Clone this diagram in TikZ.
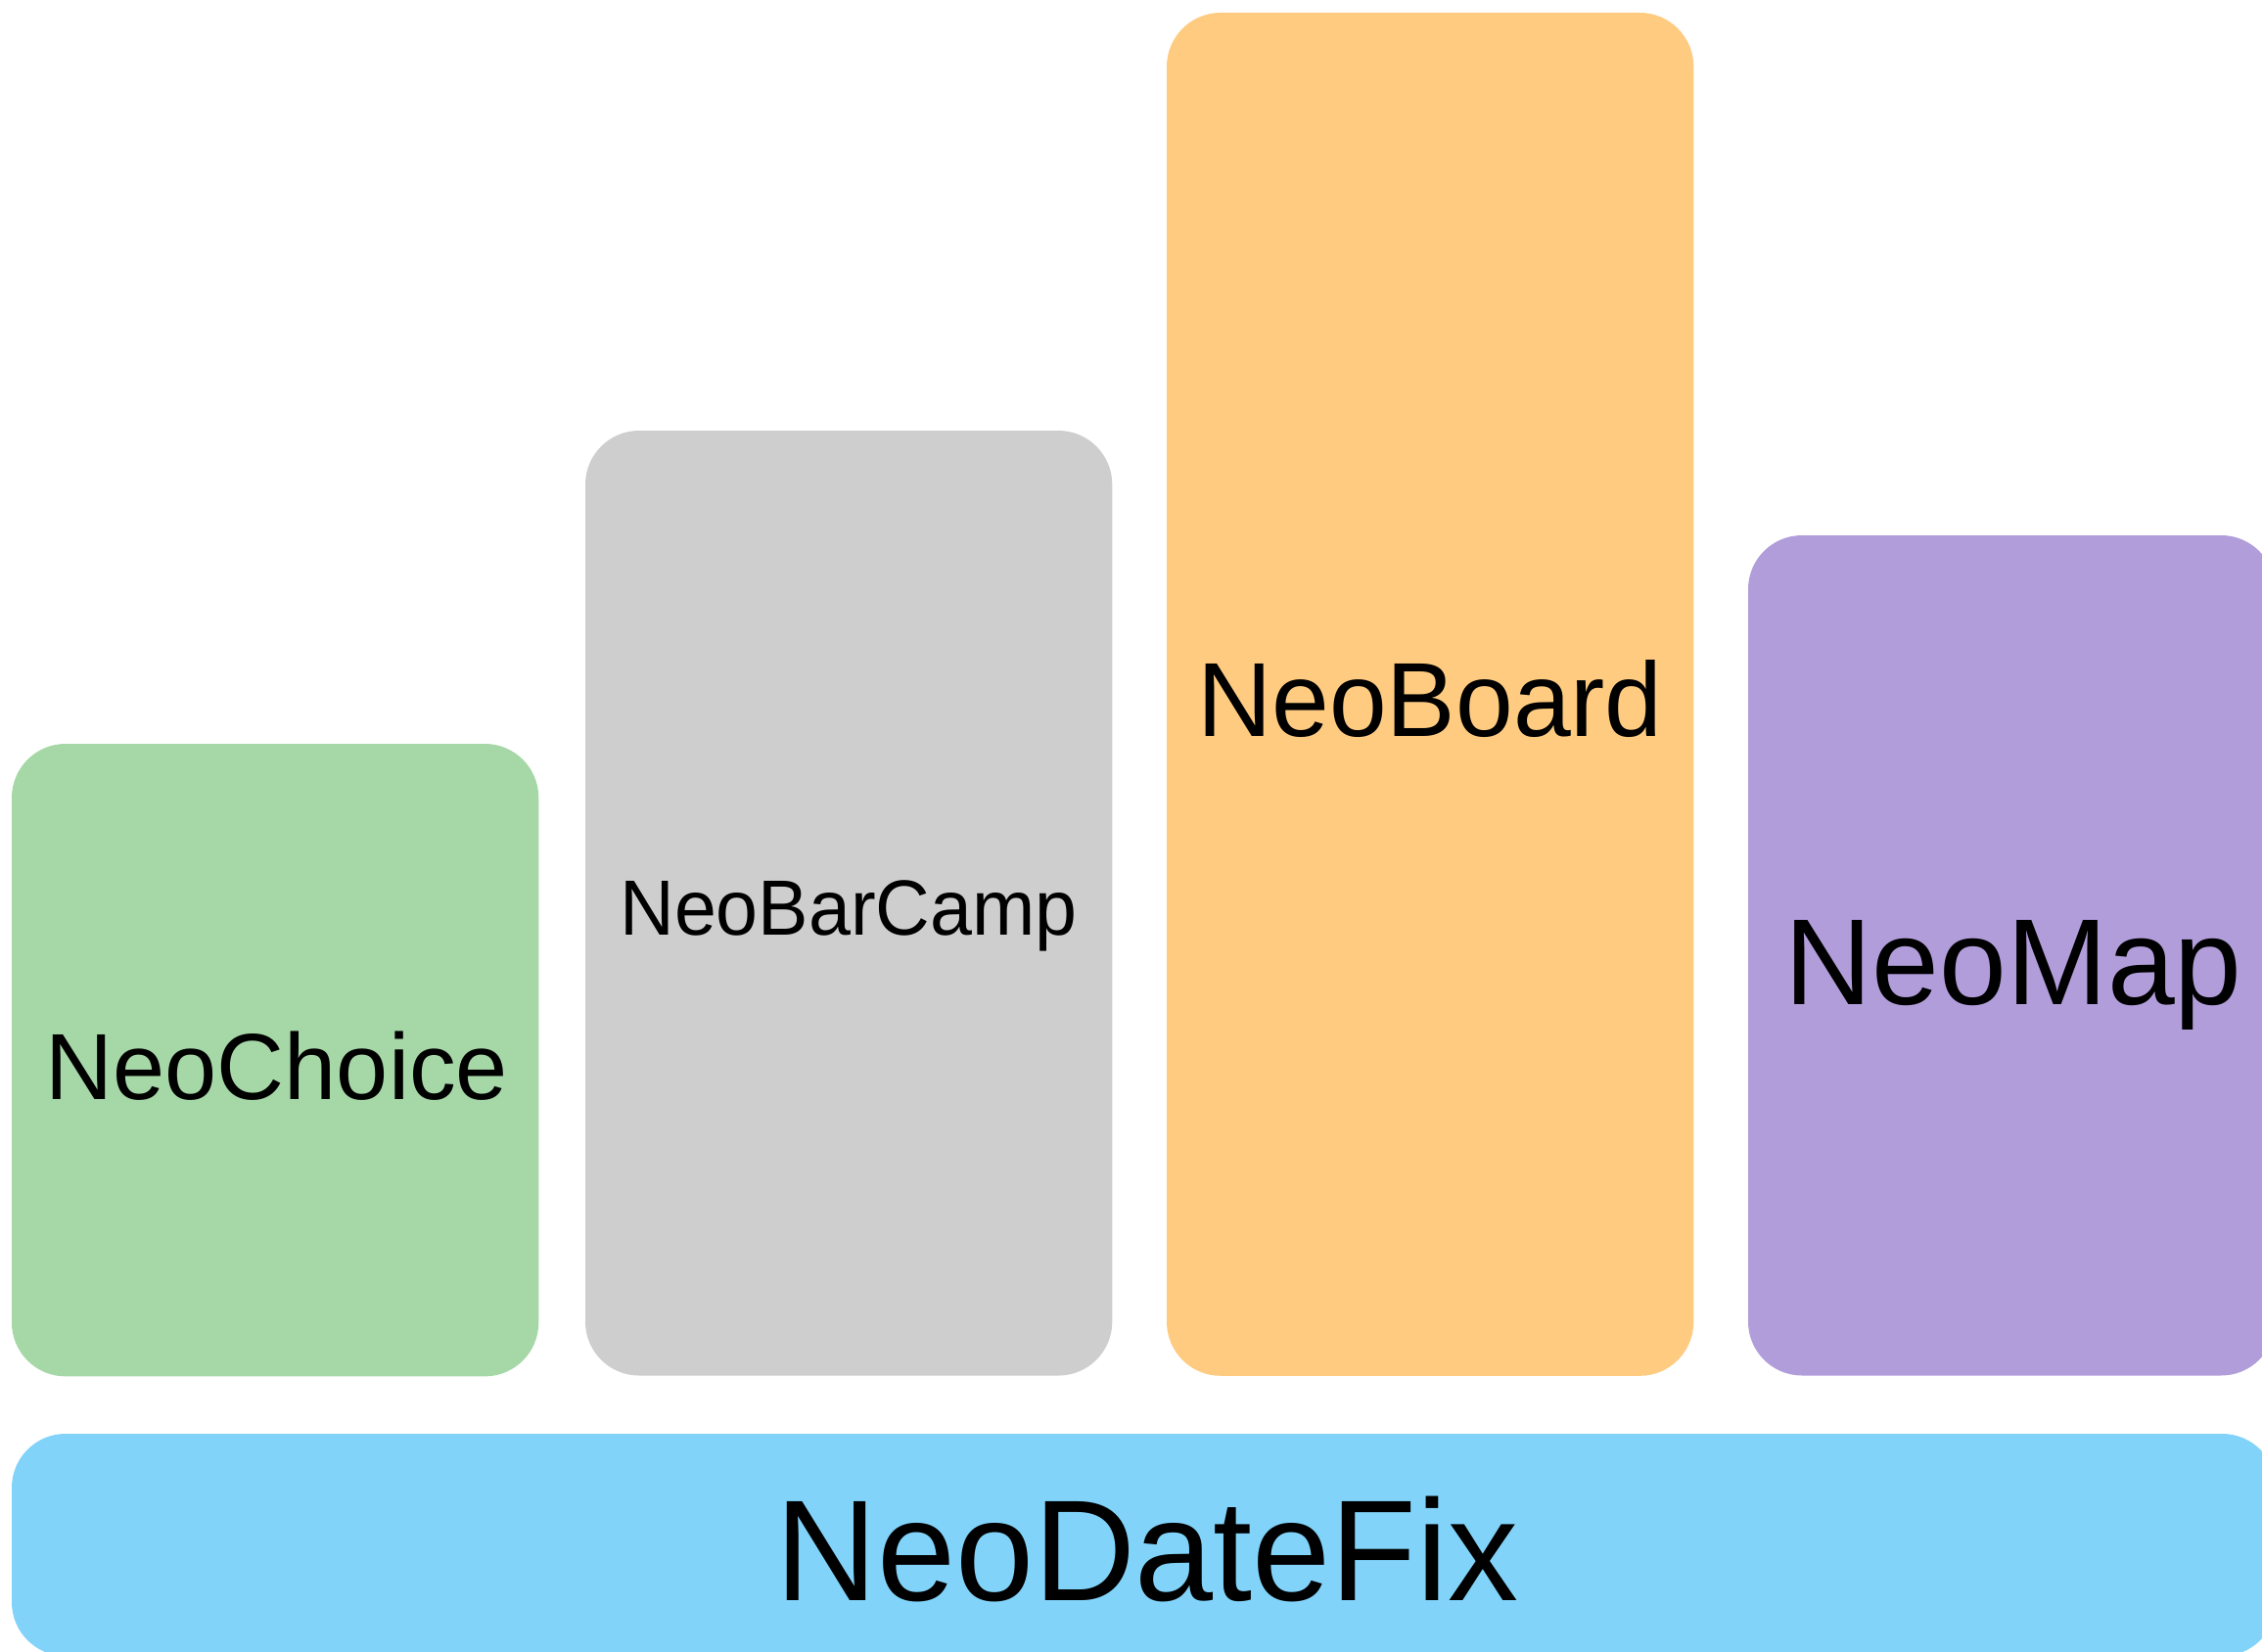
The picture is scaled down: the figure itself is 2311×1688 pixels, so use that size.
\documentclass[tikz,border=0pt]{standalone}
\usepackage{fontspec}
\setmainfont{Liberation Sans}
\usepackage{graphicx}
\definecolor{cgreen}{HTML}{A6D7A7}
\definecolor{cgray}{HTML}{CECECE}
\definecolor{corange}{HTML}{FECB81}
\definecolor{cpurple}{HTML}{B29DDB}
\definecolor{cblue}{HTML}{81D3F9}
\newcommand\fitlbl[3]{\resizebox{#1}{#2}{\raisebox{0pt}[\fontcharht\font`\N][0pt]{#3}}}
\tikzset{
  blockbox/.style={rectangle, rounded corners=0.55cm, draw=none, inner sep=0pt, outer sep=0pt, anchor=north west, minimum width=5.38cm},
  lbl/.style={inner sep=0pt, outer sep=0pt, anchor=base, text=black}
}
\begin{document}
\begin{tikzpicture}[x=0.01cm, y=-0.01cm]
\useasboundingbox (0,0) rectangle (2311,1688);
\clip (0,0) rectangle (2311,1688);
% boxes
\node[blockbox, fill=cgreen,  minimum height=6.46cm] (choice)  at (12,760) {};
\node[blockbox, fill=cgray,   minimum height=9.65cm] (barcamp) at (598,440) {};
\node[blockbox, fill=corange, minimum height=13.92cm] (board)  at (1192,13) {};
\node[blockbox, fill=cpurple, minimum height=8.58cm] (map)     at (1786,547) {};
\node[blockbox, fill=cblue,   minimum height=2.27cm, minimum width=23.12cm] (datefix) at (12,1465) {};
% labels
\node[lbl] (lchoice)  at (283,1123)  {\fitlbl{4.72cm}{0.66cm}{NeoChoice}};
\node[lbl] (lbarcamp) at (867,955)   {\fitlbl{4.67cm}{0.55cm}{NeoBarCamp}};
\node[lbl] (lboard)   at (1461,752)  {\fitlbl{4.75cm}{0.74cm}{NeoBoard}};
\node[lbl] (lmap)     at (2057,1026) {\fitlbl{4.67cm}{0.86cm}{NeoMap}};
\node[lbl] (ldatefix) at (1172,1635) {\fitlbl{7.59cm}{1.01cm}{NeoDateFix}};
\end{tikzpicture}
\end{document}
